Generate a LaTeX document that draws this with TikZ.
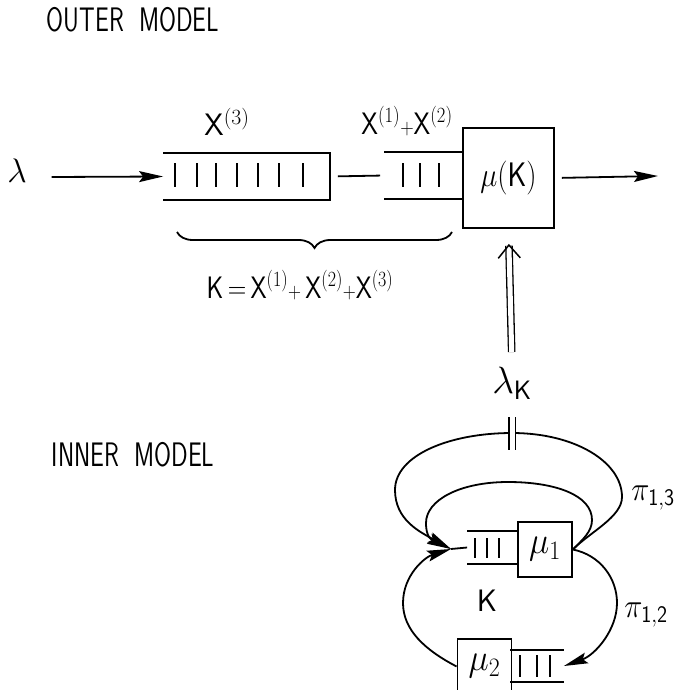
\RequirePackage{fix-cm}
\documentclass[tikz,border=0pt]{standalone}
\usepackage{amsmath}
\usepackage{graphicx}
\usepackage{tikz}
\usetikzlibrary{positioning,arrows.meta,decorations.pathreplacing,calc}

\newcommand{\narrowtext}[2][0.72]{\scalebox{#1}[1]{#2}}

\begin{document}
\begin{tikzpicture}[
  x=1pt, y=-1pt,
  line width=1.8pt,
  box/.style={draw, minimum width=54pt, minimum height=55pt, inner sep=0pt, font=\fontsize{38}{44}\selectfont},
  queue/.style={minimum width=50pt, minimum height=31pt, inner sep=0pt},
  arr/.style={-{Stealth[length=24pt,width=11pt,inset=4pt]}},
  dbl/.style={double, double distance=5pt, line width=1.3pt},
  title/.style={font=\sffamily\fontsize{34}{40}\selectfont},
  lbl/.style={font=\fontsize{31}{36}\selectfont, inner sep=2pt}
]
\useasboundingbox (0,0) rectangle (677,690);

% outer model
\node[title] (outer) at (133,20) {\narrowtext{OUTER\ \ MODEL}};
\node[lbl, font=\fontsize{34}{40}\selectfont] (lam) at (17,171) {$\lambda$};
\node[queue, minimum width=165pt, minimum height=45pt] (q3) at (246.5,176.5) {};
\node[queue, minimum width=78pt, minimum height=45pt] (q12) at (424,175.5) {};
\node[box, minimum width=91pt, minimum height=100pt, font=\fontsize{34}{40}\selectfont] (muK) at (508.5,178) {\narrowtext[0.85]{$\mu(\mathsf{K})$}};

\draw (q3.north west) -- (q3.north east) -- (q3.south east) -- (q3.south west);
\draw (q12.north west) -- (q12.north east) (q12.south west) -- (q12.south east);
\foreach \x in {175,197,216,237,258,279,303}
  \draw (\x,163) -- (\x,187);
\foreach \x in {403,420,439}
  \draw (\x,163) -- (\x,187);

\node[lbl] (x3) at (227,122) {$\mathsf{X}^{(3)}$};
\node[lbl] (x12) at (407,121) {\narrowtext[0.86]{$\mathsf{X}^{(1)}{\scriptstyle +}\mathsf{X}^{(2)}$}};

\draw[arr] (lam.east) ++(22,6) -- (q3.west);
\draw[shorten <=8pt, shorten >=4pt] (q3.east) -- (q12.west);
\coordinate (out) at (658,176);
\draw[arr, shorten <=7pt] (muK.east) -- (out);

% brace under the queues
\coordinate (br1) at (177,232);
\coordinate (br2) at (452,232);
\draw[decorate, decoration={brace, mirror, amplitude=16pt}] (br1) -- (br2);
\node[lbl] (ksum) at (300,285) {\narrowtext[0.83]{$\mathsf{K}\,{=}\,\mathsf{X}^{(1)}{\scriptstyle +}\,\mathsf{X}^{(2)}{\scriptstyle +}\mathsf{X}^{(3)}$}};

% link to the inner model
\node[lbl, font=\fontsize{38}{42}\selectfont] (lamK) at (512,383) {$\lambda_{\mathsf{K}}$};
\draw[dbl, -{Straight Barb[length=13pt,width=22pt,line width=1.5pt]}, shorten <=12pt, shorten >=15pt] (lamK.north) -- (muK.south);

% inner model
\node[title] (inner) at (133,455) {\narrowtext{INNER\ \ MODEL}};
\node[queue] (q1) at (493,547.5) {};
\node[box] (mu1) at (545,549.5) {\narrowtext[0.9]{$\mu_1$}};
\node[box] (mu2) at (484.5,666.5) {\narrowtext[0.9]{$\mu_2$}};
\node[queue, minimum width=52pt, minimum height=30pt] (q2) at (537,666) {};
\coordinate (jn) at (451,549);

\draw (q1.north west) -- (q1.north east) (q1.south west) -- (q1.south east);
\foreach \x in {475,487,499}
  \draw (\x,538) -- (\x,558);
\draw (q2.north west) -- (q2.north east) (q2.south west) -- (q2.south east);
\foreach \x in {520,537,550}
  \draw (\x,655) -- (\x,677);
\draw (jn) -- (q1.west);

\draw[arr] (mu1.east) .. controls (590,532) and (622,517) .. (622,497)
  .. controls (622,462) and (575,433) .. (512,433)
  .. controls (450,433) and (395,455) .. (395,490)
  .. controls (395,520) and (420,532) .. (jn);
\draw[arr] (mu1.east) .. controls (582,540) and (592,532) .. (592,520)
  .. controls (592,495) and (555,482) .. (508,482)
  .. controls (460,482) and (426,500) .. (426,523)
  .. controls (426,538) and (432,540) .. (jn);
\draw[arr] (mu2.west) .. controls (425,650) and (403,630) .. (403,603)
  .. controls (403,575) and (425,557) .. (jn);
\draw[arr] (mu1.east) .. controls (600,555) and (617,578) .. (617,603)
  .. controls (617,630) and (595,655) .. (q2.east);

\coordinate (tickt) at (512,417);
\coordinate (tickb) at (512,450);
\draw[dbl] (tickt) -- (tickb);

\node[lbl, font=\fontsize{34}{40}\selectfont] (p13) at (653,498) {\narrowtext[0.9]{$\pi_{\mathsf{1,3}}$}};
\node[lbl, font=\fontsize{34}{40}\selectfont] (p12) at (646,615) {\narrowtext[0.9]{$\pi_{\mathsf{1,2}}$}};
\node[lbl] (kin) at (487,601) {$\mathsf{K}$};
\end{tikzpicture}
\end{document}
